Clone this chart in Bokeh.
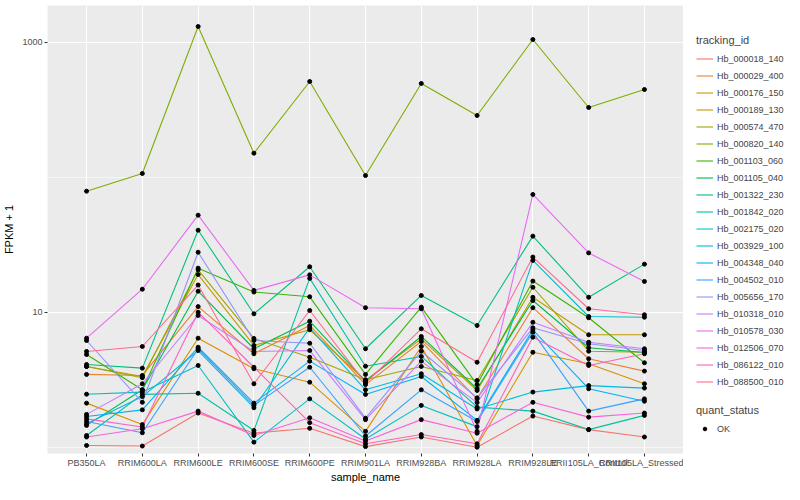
from bokeh.plotting import figure
from bokeh.layouts import row
from bokeh.models import FactorRange, Range1d, FixedTicker, Legend, LegendItem, BasicTickFormatter
from bokeh.embed import file_html
from bokeh.resources import INLINE

samples = ["PB350LA", "RRIM600LA", "RRIM600LE", "RRIM600SE", "RRIM600PE", "RRIM901LA",
           "RRIM928BA", "RRIM928LA", "RRIM928LE", "RRII105LA_Control", "RRII105LA_Stressed"]

tracking_ids = ["Hb_000018_140", "Hb_000029_400", "Hb_000176_150", "Hb_000189_130", "Hb_000574_470",
                "Hb_000820_140", "Hb_001103_060", "Hb_001105_040", "Hb_001322_230", "Hb_001842_020",
                "Hb_002175_020", "Hb_003929_100", "Hb_004348_040", "Hb_004502_010", "Hb_005656_170",
                "Hb_010318_010", "Hb_010578_030", "Hb_012506_070", "Hb_086122_010", "Hb_088500_010"]

colors = ["#F8766D", "#EA8331", "#D89000", "#C09B00", "#A3A500", "#7CAE00", "#39B600", "#00BB4E",
          "#00BF7D", "#00C1A3", "#00BFC4", "#00BAE0", "#00B0F6", "#35A2FF", "#9590FF", "#C77CFF",
          "#E76BF3", "#FA62DB", "#FF62BC", "#FF6C91"]

# FPKM + 1 per sample (order of `samples`)
hb_000018_140 = [1.03, 1.02, 1.79, 1.27, 1.38, 1.01, 1.19, 1.00, 1.70, 1.35, 1.19]
hb_000029_400 = [3.46, 3.40, 11.0, 4.92, 7.97, 2.91, 6.07, 2.28, 10.8, 4.52, 3.66]
hb_000176_150 = [2.12, 1.47, 6.42, 3.81, 3.03, 1.31, 5.57, 1.03, 5.05, 4.15, 2.95]
hb_000189_130 = [3.96, 3.34, 19.0, 5.67, 7.41, 3.12, 6.35, 2.63, 12.9, 6.80, 6.80]
hb_000574_470 = [3.96, 3.27, 20.6, 6.39, 4.64, 3.16, 3.96, 3.12, 15.3, 5.14, 5.05]
hb_000820_140 = [78.8, 106.5, 1307, 150.6, 511.5, 102.9, 494.6, 286.4, 1047, 328.4, 446.2]
hb_001103_060 = [4.86, 2.66, 21.2, 14.1, 13.0, 3.46, 10.9, 2.91, 17.0, 9.09, 4.22]
hb_001105_040 = [1.45, 2.66, 14.3, 5.36, 8.58, 3.08, 6.61, 2.71, 12.2, 5.45, 5.03]
hb_001322_230 = [4.10, 3.85, 40.5, 9.73, 21.7, 5.36, 13.3, 7.97, 36.6, 12.9, 22.7]
hb_001842_020 = [1.22, 2.46, 2.51, 1.33, 17.8, 3.98, 4.70, 1.98, 1.85, 1.35, 1.72]
hb_002175_020 = [2.47, 2.56, 4.03, 1.09, 2.28, 1.15, 2.04, 1.42, 24.2, 9.29, 9.18]
hb_003929_100 = [1.49, 2.37, 5.20, 1.96, 7.66, 2.66, 3.50, 1.92, 2.56, 2.86, 2.74]
hb_004348_040 = [1.69, 1.89, 5.50, 2.12, 4.34, 2.46, 3.34, 1.58, 7.41, 2.71, 2.19]
hb_004502_010 = [1.55, 1.28, 5.36, 2.04, 3.91, 1.21, 2.66, 1.55, 7.11, 1.85, 2.28]
hb_005656_170 = [6.17, 2.15, 27.8, 6.17, 5.89, 1.64, 5.14, 2.32, 7.66, 5.83, 5.20]
hb_010318_010 = [1.75, 2.95, 9.45, 5.12, 5.20, 1.60, 4.34, 2.14, 8.43, 5.99, 5.36]
hb_010578_030 = [6.42, 14.8, 52.3, 14.5, 18.9, 10.8, 10.6, 1.31, 74.5, 27.5, 16.9]
hb_012506_070 = [1.19, 1.37, 1.85, 1.22, 1.65, 1.11, 1.60, 1.27, 2.15, 1.67, 1.79]
hb_086122_010 = [1.62, 1.41, 10.0, 3.91, 1.52, 1.06, 1.24, 1.06, 6.53, 4.03, 4.92]
hb_088500_010 = [5.12, 5.57, 15.9, 2.95, 10.3, 2.98, 7.53, 4.26, 25.6, 10.6, 9.57]

series = [hb_000018_140, hb_000029_400, hb_000176_150, hb_000189_130, hb_000574_470,
          hb_000820_140, hb_001103_060, hb_001105_040, hb_001322_230, hb_001842_020,
          hb_002175_020, hb_003929_100, hb_004348_040, hb_004502_010, hb_005656_170,
          hb_010318_010, hb_010578_030, hb_012506_070, hb_086122_010, hb_088500_010]

status_labels = ["OK"]

y_ticks = [10, 1000]
y_minor = [1, 100]

FONT = "Liberation Sans"
FH = 448

p = figure(width=683, frame_height=FH, output_backend="svg", toolbar_location=None,
           x_range=FactorRange(factors=samples, range_padding=0.2, range_padding_units="absolute"),
           y_range=Range1d(0.898, 1870), y_axis_type="log",
           min_border_top=5, min_border_bottom=0, min_border_right=0, min_border_left=0)

p.background_fill_color = "#EBEBEB"
p.border_fill_color = "white"
p.outline_line_color = None

p.yaxis.ticker = FixedTicker(ticks=y_ticks, minor_ticks=y_minor)
p.yaxis.formatter = BasicTickFormatter(use_scientific=False)
p.xgrid.grid_line_color = "white"
p.xgrid.grid_line_width = 1.1
p.ygrid.grid_line_color = "white"
p.ygrid.grid_line_width = 1.1
p.ygrid.minor_grid_line_color = "white"
p.ygrid.minor_grid_line_width = 0.55

for ax in (p.xaxis, p.yaxis):
    ax.axis_line_color = None
    ax.major_tick_line_color = "#333333"
    ax.major_tick_in = 0
    ax.major_tick_out = 3
    ax.minor_tick_line_color = None
    ax.major_label_text_font = FONT
    ax.major_label_text_font_size = "9px"
    ax.major_label_text_color = "#4D4D4D"
    ax.major_label_standoff = 1
    ax.axis_label_text_font = FONT
    ax.axis_label_text_font_size = "11px"
    ax.axis_label_text_font_style = "normal"
    ax.axis_label_text_color = "black"
    ax.axis_label_standoff = 0

p.xaxis.axis_label = "sample_name"
p.yaxis.axis_label = "FPKM + 1"
p.yaxis.axis_label_standoff = 4

for col, vals in zip(colors, series):
    p.line(x=samples, y=vals, line_color=col, line_width=1.1)

px, py = [], []
for vals in series:
    px.extend(samples)
    py.extend(vals)
p.scatter(x=px, y=py, size=4, color="black")

# legend panel; key renderers sit outside its (hidden) ranges, only their legend glyphs show
lp = figure(width=101, frame_height=FH, output_backend="svg", toolbar_location=None,
            x_range=Range1d(0, 1), y_range=Range1d(0, 1),
            x_axis_location=None, y_axis_location=None,
            min_border_top=5, min_border_bottom=31, min_border_right=0, min_border_left=0)
lp.grid.visible = False
lp.outline_line_color = None
lp.background_fill_color = "white"
lp.border_fill_color = "white"

key_items = []
for tid, col in zip(tracking_ids, colors):
    r = lp.line(x=[5, 6], y=[5, 6], line_color=col, line_width=1.1)
    key_items.append(LegendItem(label=tid, renderers=[r]))
rk = lp.scatter(x=[5], y=[5], size=4, color="black")


def style_legend(lg):
    lg.title_text_font = FONT
    lg.title_text_font_size = "11px"
    lg.title_text_font_style = "normal"
    lg.title_standoff = 4
    lg.label_text_font = FONT
    lg.label_text_font_size = "9px"
    lg.label_height = 17
    lg.glyph_height = 17
    lg.glyph_width = 17
    lg.label_standoff = 4
    lg.spacing = 0
    lg.padding = 0
    lg.margin = 0
    lg.border_line_color = None
    lg.background_fill_color = "white"
    lg.background_fill_alpha = 1.0


leg1 = Legend(items=key_items, title="tracking_id", location=(13, 63))
style_legend(leg1)
lp.add_layout(leg1)

leg2 = Legend(items=[LegendItem(label=status_labels[0], renderers=[rk])], title="quant_status",
              location=(13, 16))
style_legend(leg2)
leg2.glyph_height = 9
lp.add_layout(leg2)

layout = row(p, lp)
open("out.html", "w").write(file_html(layout, INLINE))
